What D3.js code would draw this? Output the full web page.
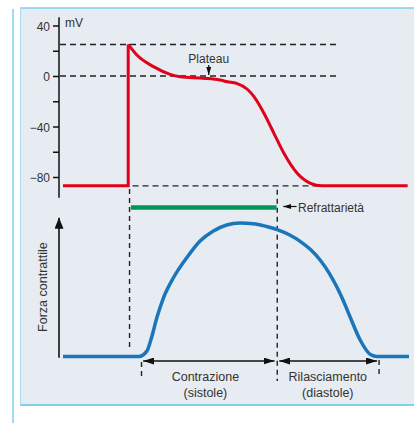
<!DOCTYPE html>
<html><head><meta charset="utf-8">
<script src="https://cdn.jsdelivr.net/npm/d3@7/dist/d3.min.js"></script>
<style>
html,body{margin:0;padding:0;background:#fff;}
svg{display:block;}
text{font-family:"Liberation Sans",Arial,sans-serif;fill:#333;}
</style></head>
<body>
<script>
// ---- data (time in ms, potential in mV, force in arbitrary units) ----
const apTime = [0, 98, 98, 111, 136, 161, 176, 211, 236, 247, 261, 277, 287, 302, 317, 332, 352, 372, 389, 518];
const apMv   = [-87, -87, 25, 16.6, 7.4, 1.3, -0.6, -1.8, -3.2, -4.5, -5.8, -10.5, -16.4, -29.5, -45.4, -61.2, -77, -85, -87, -87];
const forceTime = [0, 114, 126, 133, 141, 151, 166, 186, 206, 226, 246, 266, 286, 306, 323, 340, 357, 372, 387, 400, 412, 422, 432, 447, 462, 472, 520];
const forceVal  = [0, 0, 4, 14, 29, 44, 59, 74, 86.5, 94, 98.5, 100, 99.5, 97.4, 94.9, 91.2, 86.1, 80.1, 71.9, 62.5, 51.7, 41, 29, 12, 1.5, 0, 0];
const mvTicks = [40, 20, 0, -20, -40, -60, -80];
const mvLabels = [40, 0, -40, -80];
const refLevels = [25, 0];          // dashed reference levels (mV)
const restLevel = -87;
const refractory = [102, 321];      // refractory period (ms)
const apOnset = 100;
const contraction = [118, 322];     // sistole
const relaxation = [322, 475];      // diastole
const labels = {unit: "mV", plateau: "Plateau", refr: "Refrattarietà", force: "Forza contrattile",
  contr: ["Contrazione", "(sistole)"], relax: ["Rilasciamento", "(diastole)"]};

const W = 414, H = 423;
const svg = d3.select("body").append("svg").attr("width", W).attr("height", H);

// panel
svg.append("rect").attr("x", 20).attr("y", 8).attr("width", W - 20).attr("height", 397).attr("fill", "#e6ecf1");
svg.append("line").attr("x1", 20).attr("x2", W).attr("y1", 8).attr("y2", 8).attr("stroke", "#7fd0ec").attr("stroke-width", 1.5);
svg.append("line").attr("x1", 20).attr("x2", W).attr("y1", 405).attr("y2", 405).attr("stroke", "#7fd0ec").attr("stroke-width", 2);
svg.append("line").attr("x1", 20.5).attr("x2", 20.5).attr("y1", 8).attr("y2", 405).attr("stroke", "#a9dcef").attr("stroke-width", 1);
svg.append("line").attr("x1", 13).attr("x2", 13).attr("y1", 9).attr("y2", H).attr("stroke", "#7fd0ec").attr("stroke-width", 1.5);

const defs = svg.append("defs");
function marker(id, len, wid) {
  defs.append("marker").attr("id", id).attr("markerUnits", "userSpaceOnUse")
    .attr("markerWidth", len).attr("markerHeight", wid).attr("refX", len).attr("refY", wid / 2)
    .attr("orient", "auto-start-reverse").attr("viewBox", `0 0 ${len} ${wid}`)
    .append("path").attr("d", `M0,0L${len},${wid / 2}L0,${wid}Z`).attr("fill", "#111");
}
marker("big", 11, 7);
marker("small", 8, 5);
marker("axis", 11, 9);

const x = d3.scaleLinear().domain([0, 520]).range([63, 409]);
const yV = d3.scaleLinear().domain([-80, 40]).range([177, 25.5]);
const yF = d3.scaleLinear().domain([0, 100]).range([356.5, 223]);
const axisX = 59;

// upper axis
const ax = svg.append("g").attr("transform", `translate(${axisX},0)`)
  .call(d3.axisLeft(yV).tickValues(mvTicks).tickSize(6).tickSizeOuter(0)
    .tickFormat(d => mvLabels.includes(d) ? (d < 0 ? "\u2212" + Math.abs(d) : d) : ""));
ax.select(".domain").attr("d", `M0,${yV(46.5)}V${yV(-96.5)}`).attr("stroke", "#111").attr("stroke-width", 1.5);
ax.selectAll(".tick line").attr("stroke", "#111").attr("stroke-width", 1.5);
ax.selectAll(".tick text").attr("font-size", 12).attr("x", -9).attr("dy", "0.4em").style("font-family", '"Liberation Sans",Arial,sans-serif').attr("fill", "#333");
svg.append("text").attr("x", 65).attr("y", 26.5).attr("font-size", 12).text(labels.unit);

// dashed reference lines
const dash = {stroke: "#222", "stroke-width": 1.4, "stroke-dasharray": "6,4"};
function dline(x1, y1, x2, y2, da) {
  const l = svg.append("line").attr("x1", x1).attr("y1", y1).attr("x2", x2).attr("y2", y2);
  Object.entries(dash).forEach(([k, v]) => l.attr(k, v));
  if (da) l.attr("stroke-dasharray", da);
  return l;
}
refLevels.forEach(v => dline(axisX + 1, yV(v), x(412), yV(v)));
dline(x(apOnset) + 3, yV(restLevel), x(386), yV(restLevel));
dline(x(apOnset), yV(-89.5), x(apOnset), yF(5), "5,4");
dline(x(refractory[1] + 1), yV(-90), x(refractory[1] + 1), 381, "5,4");
dline(x(contraction[0]), 362, x(contraction[0]), 377, "5,4");
dline(x(relaxation[1]), 360, x(relaxation[1]), 376, "5,4");

// action potential
const ap = apTime.map((t, i) => [t, apMv[i]]);
const line = d3.line().x(d => x(d[0])).y(d => yV(d[1]));
svg.append("path").datum(ap.slice(0, 3)).attr("d", line.curve(d3.curveLinear))
  .attr("fill", "none").attr("stroke", "#e2001a").attr("stroke-width", 3).attr("stroke-linejoin", "miter");
svg.append("path").datum(ap.slice(2)).attr("d", d3.line().x(d => x(d[0])).y(d => yV(d[1])).curve(d3.curveMonotoneX))
  .attr("fill", "none").attr("stroke", "#e2001a").attr("stroke-width", 3);

// plateau label
svg.append("text").attr("x", x(219)).attr("y", 62.5).attr("text-anchor", "middle").attr("font-size", 12).text(labels.plateau);
svg.append("line").attr("x1", x(219)).attr("x2", x(219)).attr("y1", 65).attr("y2", yV(0) - 1)
  .attr("stroke", "#111").attr("stroke-width", 1.2).attr("marker-end", "url(#small)");

// refractory bar
svg.append("line").attr("x1", x(refractory[0])).attr("x2", x(refractory[1])).attr("y1", 207.5).attr("y2", 207.5)
  .attr("stroke", "#00975a").attr("stroke-width", 4.5);
svg.append("line").attr("x1", x(351)).attr("x2", x(331)).attr("y1", 206.5).attr("y2", 206.5)
  .attr("stroke", "#111").attr("stroke-width", 1.2).attr("marker-end", "url(#small)");
svg.append("text").attr("x", 298).attr("y", 211.5).attr("font-size", 12).text(labels.refr);

// lower axis (arrow)
svg.append("line").attr("x1", axisX).attr("x2", axisX).attr("y1", yF(-1)).attr("y2", yF(104))
  .attr("stroke", "#111").attr("stroke-width", 1.6).attr("marker-end", "url(#axis)");
svg.append("text").attr("transform", `translate(47,${yF(52)}) rotate(-90)`).attr("text-anchor", "middle")
  .attr("font-size", 12.5).text(labels.force);

// force curve
const force = forceTime.map((t, i) => [t, forceVal[i]]);
svg.append("path").datum(force).attr("d", d3.line().x(d => x(d[0])).y(d => yF(d[1])).curve(d3.curveMonotoneX))
  .attr("fill", "none").attr("stroke", "#1b75bb").attr("stroke-width", 3.5);

// phase arrows
function harrow(a, b) {
  svg.append("line").attr("x1", x(a)).attr("x2", x(b)).attr("y1", 361).attr("y2", 361)
    .attr("stroke", "#111").attr("stroke-width", 1.4)
    .attr("marker-start", "url(#big)").attr("marker-end", "url(#big)");
}
harrow(contraction[0] + 2.5, contraction[1] - 4);
harrow(relaxation[0] + 3, relaxation[1] - 3);
function label2(cx, lines) {
  svg.append("text").attr("x", cx).attr("y", 381).attr("text-anchor", "middle").attr("font-size", 12.5).text(lines[0]);
  svg.append("text").attr("x", cx).attr("y", 397).attr("text-anchor", "middle").attr("font-size", 12.5).text(lines[1]);
}
label2(x(214), labels.contr);
label2(x(398), labels.relax);
</script>
</body></html>
